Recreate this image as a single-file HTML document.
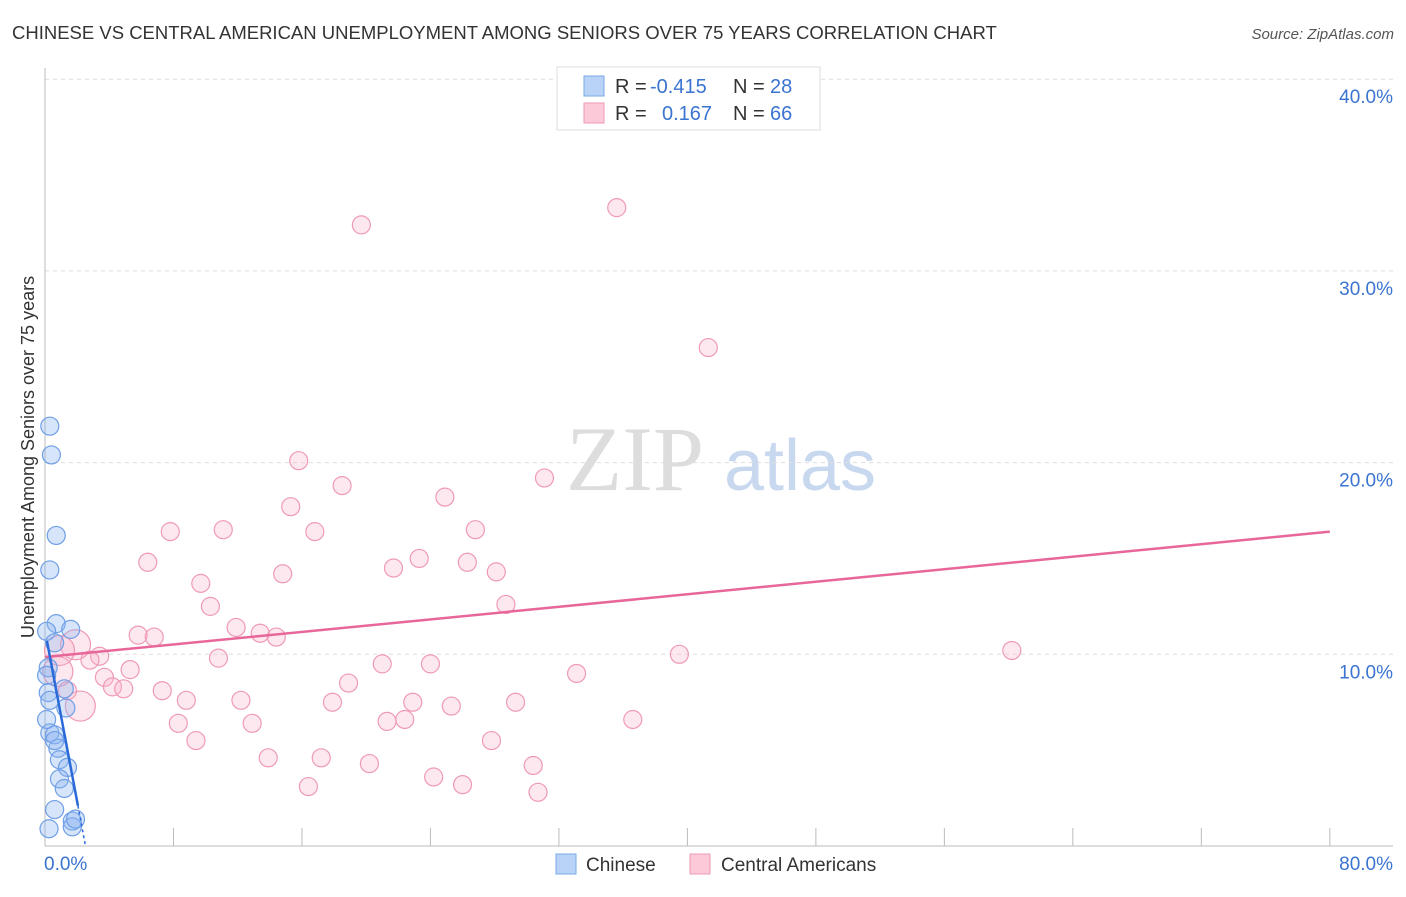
<!DOCTYPE html>
<html><head><meta charset="utf-8"><style>
body{margin:0;background:#fff;font-family:"Liberation Sans",sans-serif}
</style></head><body>
<svg width="1406" height="892" viewBox="0 0 1406 892" xmlns="http://www.w3.org/2000/svg">
<text x="12" y="39" font-size="18.5" fill="#333">CHINESE VS CENTRAL AMERICAN UNEMPLOYMENT AMONG SENIORS OVER 75 YEARS CORRELATION CHART</text>
<text x="1394" y="39" font-size="15" fill="#555" text-anchor="end" font-style="italic">Source: ZipAtlas.com</text>
<g><text x="635" y="490" font-size="92" fill="#ddd" font-family="Liberation Serif,serif" text-anchor="middle">ZIP</text><text x="800" y="490" font-size="72" fill="#c8d8ee" text-anchor="middle">atlas</text></g>
<g id="grid"></g><g id="axes"></g><g id="pts"></g><g id="lines"></g>
<text transform="translate(34,457) rotate(-90)" font-size="18" fill="#333" text-anchor="middle">Unemployment Among Seniors over 75 years</text>
<g>
<rect x="557" y="67" width="263" height="63" fill="#fff" stroke="#ddd"/>
<rect x="584" y="76" width="20" height="20" fill="#b8d3f6" stroke="#7aa8e8"/>
<rect x="584" y="103" width="20" height="20" fill="#fbc9d8" stroke="#ef9ab5"/>
<text y="93" font-size="20" fill="#333"><tspan x="615">R =</tspan><tspan x="650" fill="#3a74d0">-0.415</tspan><tspan x="733">N =</tspan><tspan x="770" fill="#3a74d0">28</tspan></text>
<text y="120" font-size="20" fill="#333"><tspan x="615">R =</tspan><tspan x="662" fill="#3a74d0">0.167</tspan><tspan x="733">N =</tspan><tspan x="770" fill="#3a74d0">66</tspan></text>
</g>
<g>
<rect x="556" y="854" width="20" height="20" fill="#b8d3f6" stroke="#7aa8e8"/>
<text x="586" y="871" font-size="19" fill="#333">Chinese</text>
<rect x="690" y="854" width="20" height="20" fill="#fbc9d8" stroke="#ef9ab5"/>
<text x="721" y="871" font-size="19" fill="#333">Central Americans</text>
</g>
</svg>
<script>
const yTicks=[10,20,30,40];
const yTickLabels=["10.0%","20.0%","30.0%","40.0%"];
const xTicks=[0,8,16,24,32,40,48,56,64,72,80];
const chineseX=[0.3,0.4,0.7,0.3,0.7,1.6,0.1,0.6,0.2,0.1,0.2,1.2,1.3,0.3,0.6,0.8,0.9,1.4,0.9,1.2,0.6,1.7,1.7,0.25,0.6,0.1,0.3,1.9];
const chineseY=[21.9,20.4,16.2,14.4,11.6,11.3,11.2,10.6,9.3,8.9,8.0,8.2,7.2,5.9,5.8,5.1,4.5,4.1,3.5,3.0,1.9,1.3,1.0,0.9,5.5,6.6,7.6,1.4];
const centralX=[35.6,19.7,41.3,15.8,31.1,18.5,24.9,15.3,11.1,7.8,16.8,26.8,23.3,6.4,26.3,21.7,28.1,14.8,9.7,28.7,10.3,11.9,5.8,6.8,13.4,14.4,3.4,2.8,10.8,5.3,21.0,24.0,33.1,39.5,60.2,3.7,4.2,4.9,7.3,18.9,8.8,12.2,17.9,22.9,25.3,29.3,8.3,12.9,21.3,22.4,36.6,9.4,27.8,13.9,17.2,20.2,24.2,30.4,16.4,26.0,30.7,1.9,0.9,0.8,1.4,2.2];
const centralY=[33.3,32.4,26.0,20.1,19.2,18.8,18.2,17.7,16.5,16.4,16.4,16.5,15.0,14.8,14.8,14.5,14.3,14.2,13.7,12.6,12.5,11.4,11.0,10.9,11.1,10.9,9.9,9.7,9.8,9.2,9.5,9.5,9.0,10.0,10.2,8.8,8.3,8.2,8.1,8.5,7.6,7.6,7.5,7.5,7.3,7.5,6.4,6.4,6.5,6.6,6.6,5.5,5.5,4.6,4.6,4.3,3.6,4.2,3.1,3.2,2.8,10.5,10.2,9.1,8.1,7.3];
const centralBig=[0,0,0,0,0,0,0,0,0,0,0,0,0,0,0,0,0,0,0,0,0,0,0,0,0,0,0,0,0,0,0,0,0,0,0,0,0,0,0,0,0,0,0,0,0,0,0,0,0,0,0,0,0,0,0,0,0,0,0,0,0,1,1,1,0,1];
const chineseLine=[[0.12,10.7],[2.05,2.1]];
const centralLine=[[0,9.86],[80,16.4]];
const NS="http://www.w3.org/2000/svg";
const X=v=>45+v*16.06, Y=v=>846-v*19.17;
function mk(t,a,p){const e=document.createElementNS(NS,t);for(const k in a)e.setAttribute(k,a[k]);document.getElementById(p).appendChild(e);return e;}
yTicks.forEach((t,i)=>{
 const g=mk('line',{x1:45,x2:1393,y1:Y(t),y2:Y(t),stroke:'#ddd','stroke-dasharray':'4,4'},'grid');
 
 
 const l=mk('text',{x:1393,y:Y(t)+24,'font-size':19,fill:'#3a74d0','text-anchor':'end'},'axes');
 l.textContent=yTickLabels[i];
 
 
});
mk('line',{x1:45,x2:45,y1:68,y2:846,stroke:'#bbb'},'axes');
mk('line',{x1:45,x2:1393,y1:846,y2:846,stroke:'#bbb'},'axes');
xTicks.forEach(t=>{const e=mk('line',{x1:X(t),x2:X(t),y1:828,y2:846,stroke:'#bbb'},'axes');
 
 });
const x0=mk('text',{x:44,y:870,'font-size':19,fill:'#3a74d0'},'axes');x0.textContent='0.0%';


const x1=mk('text',{x:1393,y:870,'font-size':19,fill:'#3a74d0','text-anchor':'end'},'axes');x1.textContent='80.0%';


centralX.forEach((v,i)=>{const c=mk('circle',{cx:X(v),cy:Y(centralY[i]),r:centralBig[i]?15:9,fill:'rgba(248,180,202,0.3)',stroke:'#ef9ab5','stroke-width':1.2},'pts');
 
 });
chineseX.forEach((v,i)=>{const c=mk('circle',{cx:X(v),cy:Y(chineseY[i]),r:9,fill:'rgba(140,180,240,0.35)',stroke:'#6f9fe6','stroke-width':1.2},'pts');
 
 });
const pl=mk('line',{x1:X(centralLine[0][0]),y1:Y(centralLine[0][1]),x2:X(centralLine[1][0]),y2:Y(centralLine[1][1]),stroke:'#e8679a','stroke-width':2.5},'lines');


const bl=mk('line',{x1:X(chineseLine[0][0]),y1:Y(chineseLine[0][1]),x2:X(chineseLine[1][0]),y2:Y(chineseLine[1][1]),stroke:'#2a6ad8','stroke-width':2.5},'lines');


const s=(chineseLine[1][1]-chineseLine[0][1])/(chineseLine[1][0]-chineseLine[0][0]);
const bd=mk('line',{x1:X(chineseLine[1][0]),y1:Y(chineseLine[1][1]),x2:X(chineseLine[1][0]+0.45),y2:Y(chineseLine[1][1]+s*0.45),stroke:'#2a6ad8','stroke-width':1.5,'stroke-dasharray':'3,3'},'lines');


</script>
</body></html>
